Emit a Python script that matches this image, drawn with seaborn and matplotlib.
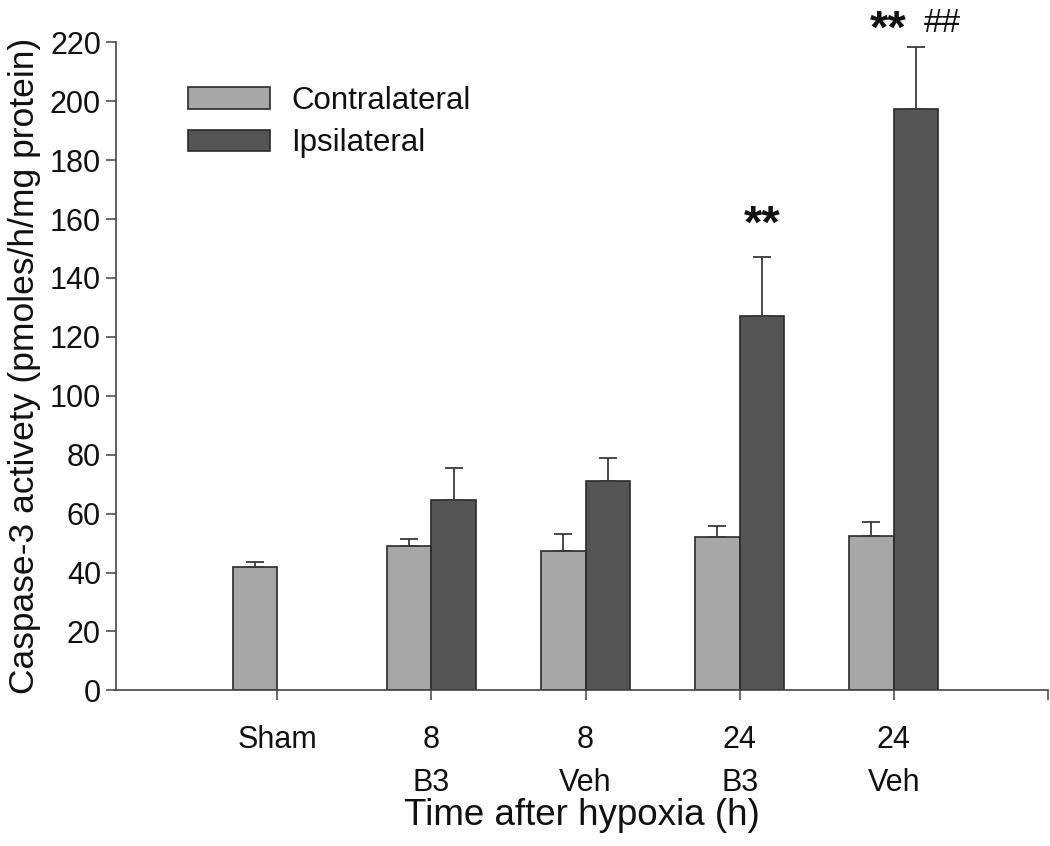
import pandas as pd
import numpy as np
import seaborn as sns
import matplotlib.pyplot as plt

# data
groups = ["Sham", "8\nB3", "8\nVeh", "24\nB3", "24\nVeh"]
contralateral = [42.0, 49.0, 47.4, 52.1, 52.3]
contralateral_err = [1.4, 2.4, 5.7, 3.8, 4.7]
ipsilateral = [np.nan, 64.5, 70.9, 127.0, 197.5]
ipsilateral_err = [np.nan, 11.0, 8.1, 20.1, 20.8]
sides = ["Contralateral", "Ipsilateral"]
side_colors = ["#a7a7a7", "#545454"]

df = pd.DataFrame({
  "group": groups * 2,
  "side": [sides[0]] * len(groups) + [sides[1]] * len(groups),
  "value": contralateral + ipsilateral,
})
errors = {(g, sides[0]): e for g, e in zip(groups, contralateral_err)}
errors.update({(g, sides[1]): e for g, e in zip(groups, ipsilateral_err)})

sns.set_style("ticks")
plt.rcParams["font.family"] = ["Liberation Sans", "DejaVu Sans"]
plt.rcParams["text.color"] = "#111111"
plt.rcParams["axes.labelcolor"] = "#111111"
plt.rcParams["xtick.labelcolor"] = "#111111"
plt.rcParams["ytick.labelcolor"] = "#111111"

fig, ax = plt.subplots(figsize = (10.5, 8.46), dpi = 100)
fig.subplots_adjust(left = 0.11, right = 0.998, bottom = 0.184, top = 0.95)

sns.barplot(data = df, x = "group", y = "value", hue = "side", order = groups,
            hue_order = sides, palette = side_colors, width = 0.58,
            errorbar = None, edgecolor = "#2a2a2a", linewidth = 1.2, ax = ax)

# one-sided error bars on top of each bar
for p in ax.patches:
  h = p.get_height()
  if not np.isfinite(h) or h <= 0:
    continue
  xc = p.get_x() + p.get_width() / 2
  i = int(round(xc))
  side = sides[0] if xc < i else sides[1]
  err = errors[(groups[i], side)]
  ax.errorbar(xc, h, yerr = [[0], [err]], fmt = "none", ecolor = "#3a3a3a",
              elinewidth = 1.3, capsize = 6.5, capthick = 1.3)

# significance marks
ax.text(3 + 0.145, 153.5, "**", ha = "center", va = "baseline",
        fontsize = 34, fontweight = "bold", clip_on = False)
ax.text(3.966, 219.8, "**", ha = "center", va = "baseline",
        fontsize = 34, fontweight = "bold", clip_on = False)
ax.text(4.316, 223.5, "##", ha = "center", va = "baseline",
        fontsize = 24, clip_on = False)

ax.set_ylim(0, 220)
ax.set_yticks(range(0, 221, 20))
ax.set_xlim(-1.05, 5.0)
ax.set_xticks(range(6))
ax.set_xticklabels(groups + [""])
ax.set_ylabel("Caspase-3 activety (pmoles/h/mg protein)", fontsize = 25.5, labelpad = 6)
ax.set_xlabel("Time after hypoxia (h)", fontsize = 26.5, labelpad = 0)
ax.tick_params(axis = "y", labelsize = 22, length = 7, width = 1.1, color = "#444")
ax.tick_params(axis = "x", labelsize = 22, length = 7, width = 1.1, color = "#444", pad = 18)
for lbl in ax.get_xticklabels():
  lbl.set_linespacing(1.55)
  lbl.set_va("top")

sns.despine(ax = ax)
for s in ["left", "bottom"]:
  ax.spines[s].set_color("#444")
  ax.spines[s].set_linewidth(1.2)

leg = ax.legend(loc = "upper left", bbox_to_anchor = (0.048, 0.976), frameon = False,
                fontsize = 22.5, handlelength = 2.6, handleheight = 0.7,
                handletextpad = 0.7, labelspacing = 0.4, title = None)

fig.savefig("out.png", dpi = 100)
